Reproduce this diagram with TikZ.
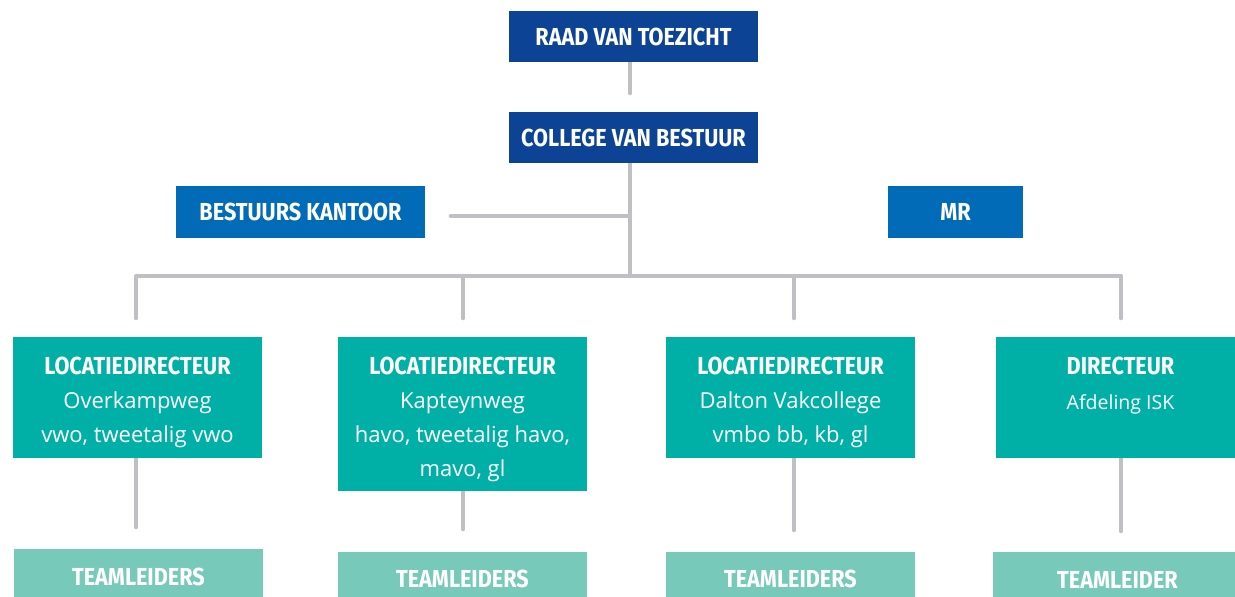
\documentclass[tikz,border=0pt]{standalone}
\usepackage{fontspec}
\setmainfont{Open Sans}
\newfontfamily\hfont[FakeStretch=0.88]{Fira Sans}
\usetikzlibrary{calc,backgrounds}
\definecolor{dblue}{RGB}{12,67,148}
\definecolor{mblue}{RGB}{1,107,183}
\definecolor{teal2}{RGB}{0,176,167}
\definecolor{lteal}{RGB}{119,202,186}
\definecolor{conngray}{RGB}{191,191,196}
\tikzset{
  box/.style={fill=#1, draw=none, inner sep=0pt, text=white, minimum width=249pt},
  head/.style={font=\hfont\bfseries\fontsize{24.6}{34}\selectfont},
  boxtext/.style={text=white, inner sep=0pt, align=center, anchor=north, font=\fontsize{22}{34}\selectfont},
  conn/.style={draw=conngray, line width=4.6pt, line cap=round, line join=round},
}
\newcommand{\hd}[1]{{\hfont\bfseries\fontsize{24.6}{34}\selectfont #1}}
\begin{document}
\begin{tikzpicture}[x=1pt,y=-1pt]
\useasboundingbox (0,0) rectangle (1235,597);
\clip (0,0) rectangle (1235,597);
% top boxes
\node[box=dblue, minimum height=51pt, head] (raad) at (633.5,36.5) {RAAD VAN TOEZICHT};
\node[box=dblue, minimum height=51pt, head] (college) at (633.5,137.5) {COLLEGE VAN BESTUUR};
\node[box=mblue, minimum height=52pt, head] (bk) at (300.5,212) {BESTUURS KANTOOR};
\node[box=mblue, minimum height=52pt, minimum width=135pt, head] (mr) at (955.5,212) {MR};
% second row
\node[box=teal2, minimum height=121pt] (b1) at (137.5,397.5) {};
\node[box=teal2, minimum height=154pt] (b2) at (462.5,414) {};
\node[box=teal2, minimum height=121pt] (b3) at (790.5,397.5) {};
\node[box=teal2, minimum height=121pt] (b4) at (1120.5,397.5) {};
\node[boxtext] (b1t) at ($(b1.north)+(0,20.5)$) {\hd{LOCATIEDIRECTEUR}\\Overkampweg\\vwo, tweetalig vwo};
\node[boxtext] (b2t) at ($(b2.north)+(0,20.5)$) {\hd{LOCATIEDIRECTEUR}\\Kapteynweg\\havo, tweetalig havo,\\mavo, gl};
\node[boxtext] (b3t) at ($(b3.north)+(0,20.5)$) {\hd{LOCATIEDIRECTEUR}\\Dalton Vakcollege\\vmbo bb, kb, gl};
\node[boxtext, font=\fontsize{19.5}{35}\selectfont] (b4t) at ($(b4.north)+(0,20.5)$) {\hd{DIRECTEUR}\\Afdeling ISK};
% team boxes
\node[box=lteal, minimum height=56pt, head] (t1) at (138.5,577) {TEAMLEIDERS};
\node[box=lteal, minimum height=54pt, head] (t2) at (462.5,579) {TEAMLEIDERS};
\node[box=lteal, minimum height=54pt, head] (t3) at (790.5,579) {TEAMLEIDERS};
\node[box=lteal, minimum height=56pt, head] (t4) at (1117.5,580) {TEAMLEIDER};
% coordinates
\coordinate (rc) at (630,93);
\coordinate (bar) at (630,276);
\coordinate (bkend) at (451,216);
\coordinate (bkj) at (630,216);
\coordinate (l1) at (136,276);
\coordinate (l2) at (463,276);
\coordinate (l3) at (794,276);
\coordinate (l4) at (1121,276);
\coordinate (s1) at (136,318);
\coordinate (s2) at (463,318);
\coordinate (s3) at (794,318);
\coordinate (s4) at (1121,318);
\coordinate (d1) at (136,527);
\coordinate (d2) at (463,529);
\coordinate (d3) at (794,530);
\coordinate (d4) at (1121,531);
\begin{scope}[on background layer]
\draw[conn] (raad.south -| rc) -- (rc);
\draw[conn] (college.south -| bar) -- (bar);
\draw[conn] (bkend) -- (bkj);
\draw[conn] (s1) -- (l1) -- (l4) -- (s4);
\draw[conn] (l2) -- (s2);
\draw[conn] (l3) -- (s3);
\draw[conn] (b1.south -| d1) -- (d1);
\draw[conn] (b2.south -| d2) -- (d2);
\draw[conn] (b3.south -| d3) -- (d3);
\draw[conn] (b4.south -| d4) -- (d4);
\end{scope}
\end{tikzpicture}
\end{document}
